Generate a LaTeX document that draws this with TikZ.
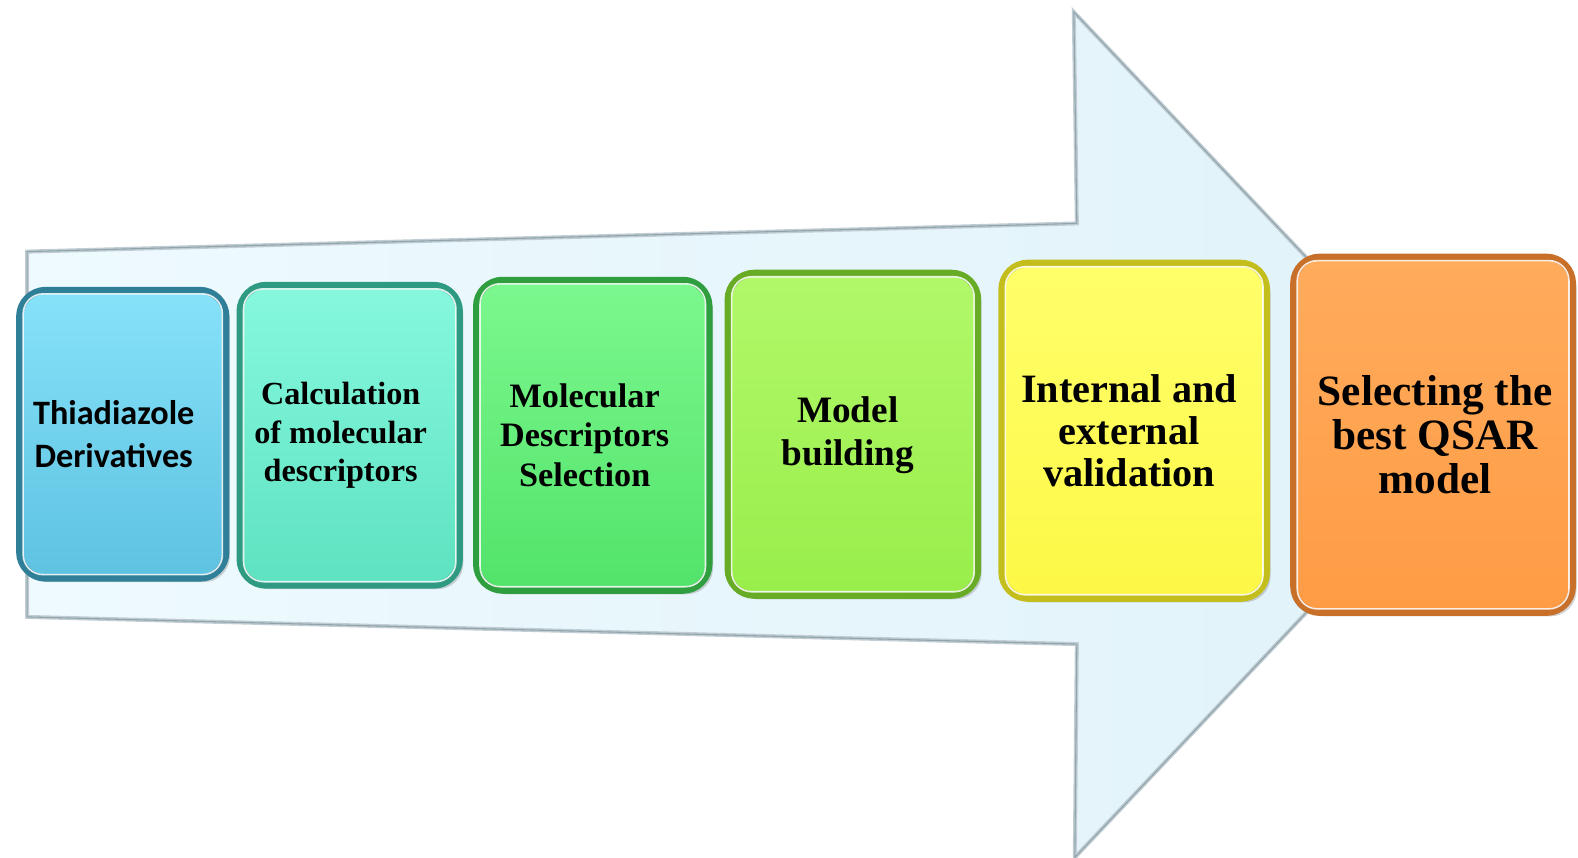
\documentclass[tikz,border=0pt]{standalone}
\usepackage{fontspec}
\setmainfont{Liberation Serif}
\newfontfamily\calfont{Carlito}
\usetikzlibrary{shadows}
\definecolor{arrowA}{HTML}{EEFAFE}
\definecolor{arrowB}{HTML}{E0F2F9}
\definecolor{arrowEdge}{HTML}{8FA4AD}
\definecolor{cAtop}{HTML}{86E2F9}\definecolor{cAbot}{HTML}{5EC2E1}\definecolor{cAdk}{HTML}{2F7F98}
\definecolor{cBtop}{HTML}{86F8DE}\definecolor{cBbot}{HTML}{5EE2C0}\definecolor{cBdk}{HTML}{2E9A82}
\definecolor{cCtop}{HTML}{7CF88E}\definecolor{cCbot}{HTML}{52E36A}\definecolor{cCdk}{HTML}{2E9E3F}
\definecolor{cDtop}{HTML}{B2F86A}\definecolor{cDbot}{HTML}{98EE4A}\definecolor{cDdk}{HTML}{68AC25}
\definecolor{cEtop}{HTML}{FFFF6A}\definecolor{cEbot}{HTML}{FDF846}\definecolor{cEdk}{HTML}{C4BE1C}
\definecolor{cFtop}{HTML}{FFAC5C}\definecolor{cFbot}{HTML}{FF9B45}\definecolor{cFdk}{HTML}{C8702A}
\tikzset{
  stepbox/.style={rounded corners=26pt, line width=7pt, inner sep=0pt,
    drop shadow={shadow xshift=4pt, shadow yshift=-4pt, opacity=0.35}},
  steptext/.style={align=center, inner sep=0pt},
  hilite/.style={white, line width=1.6pt, rounded corners=20pt, opacity=0.85}
}
\begin{document}
\begin{tikzpicture}[x=1pt,y=-1pt]
\useasboundingbox (0,0) rectangle (1568,852);
% big arrow
\path[left color=arrowA, right color=arrowB] (27,250) -- (1070,222) -- (1067,12) -- (1465,432) -- (1068,852) -- (1070,640) -- (27,613) -- cycle;
\draw[arrowEdge!55, line width=4pt, line join=miter] (27,250) -- (1070,222) -- (1067,12) -- (1465,432) -- (1068,852) -- (1070,640) -- (27,613) -- cycle;
\draw[arrowEdge, line width=1.1pt, line join=miter] (27,250) -- (1070,222) -- (1067,12) -- (1465,432) -- (1068,852) -- (1070,640) -- (27,613) -- cycle;
% boxes
\node[stepbox, draw=cAdk, top color=cAtop, bottom color=cAbot, minimum width=205pt, minimum height=286pt] (b1) at (122,431.5) {};
\node[stepbox, draw=cBdk, top color=cBtop, bottom color=cBbot, minimum width=218pt, minimum height=298pt] (b2) at (347.5,432.5) {};
\node[stepbox, draw=cCdk, top color=cCtop, bottom color=cCbot, minimum width=231pt, minimum height=308pt] (b3) at (589,432.5) {};
\node[stepbox, draw=cDdk, top color=cDtop, bottom color=cDbot, minimum width=248pt, minimum height=320pt] (b4) at (847.5,431.5) {};
\node[stepbox, draw=cEdk, top color=cEtop, bottom color=cEbot, minimum width=263pt, minimum height=333pt] (b5) at (1127,428) {};
\node[stepbox, draw=cFdk, top color=cFtop, bottom color=cFbot, minimum width=277pt, minimum height=353pt] (b6) at (1424,432) {};
% highlights
\foreach \b in {b1,b2,b3,b4,b5,b6}{
  \draw[hilite] ([shift={(7pt,-7pt)}]\b.north west) rectangle ([shift={(-7pt,7pt)}]\b.south east);
}
% texts
\node[steptext, font=\calfont\bfseries\fontsize{34}{43}\selectfont] (t1) at ([xshift=-9pt]b1.center) {Thiadiazole\\Derivatives};
\node[steptext, font=\bfseries\fontsize{32}{38.5}\selectfont] (t2) at ([xshift=-9pt]b2.center) {Calculation\\of molecular\\descriptors};
\node[steptext, font=\bfseries\fontsize{34}{39}\selectfont] (t3) at ([xshift=-8pt]b3.center) {Molecular\\Descriptors\\Selection};
\node[steptext, font=\bfseries\fontsize{37}{42}\selectfont] (t4) at ([xshift=-5pt,yshift=-1pt]b4.center) {Model\\building};
\node[steptext, font=\bfseries\fontsize{40}{42}\selectfont] (t5) at ([xshift=-5pt]b5.center) {Internal and\\external\\validation};
\node[steptext, font=\bfseries\fontsize{43}{44}\selectfont] (t6) at ([xshift=2pt]b6.center) {Selecting the\\best QSAR\\model};
\end{tikzpicture}
\end{document}
